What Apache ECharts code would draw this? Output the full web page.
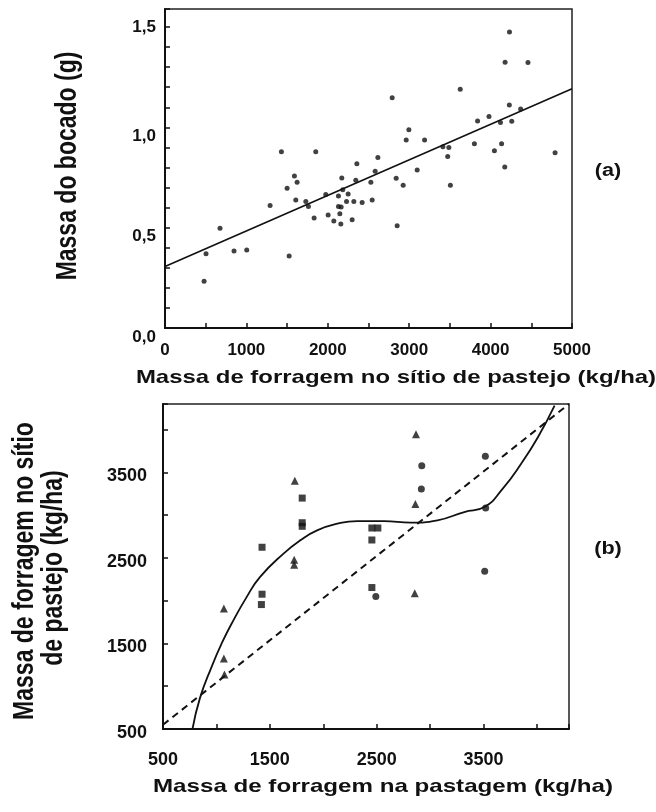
<!DOCTYPE html>
<html>
<head>
<meta charset="utf-8">
<script src="https://cdn.jsdelivr.net/npm/echarts@6/dist/echarts.min.js"></script>
<style>
html,body{margin:0;padding:0;background:#fff;}
#chart{width:656px;height:812px;}
</style>
</head>
<body>
<div id="chart"></div>
<script>
// ---------- Panel (a) data ----------
const aX = [480,504,676,848,1004,1291,1430,1500,1525,1590,1623,1607,1730,1762,1832,1852,1975,2004,2074,2131,2131,2148,2160,2172,2164,2184,2230,2250,2299,2320,2344,2357,2422,2529,2545,2582,2615,2791,2840,2852,2926,2963,2996,3098,3189,3414,3487,3473,3506,3627,3801,3840,3980,4047,4121,4135,4174,4178,4230,4232,4260,4459,4369,4792];
const aY = [0.233,0.370,0.497,0.384,0.389,0.610,0.879,0.696,0.359,0.757,0.726,0.638,0.630,0.605,0.548,0.879,0.666,0.563,0.533,0.658,0.606,0.570,0.518,0.748,0.603,0.689,0.631,0.668,0.540,0.631,0.736,0.819,0.625,0.726,0.638,0.781,0.850,1.148,0.746,0.510,0.711,0.937,0.988,0.787,0.937,0.904,0.900,0.855,0.711,1.190,0.918,1.032,1.054,0.884,1.024,0.918,0.802,1.324,1.112,1.475,1.031,1.323,1.092,0.874];
const aLineX = [0, 5000];
const aLineY = [0.306, 1.193];
const aXTicks = ['0','1000','2000','3000','4000','5000'];
const aYTicks = ['0,0','0,5','1,0','1,5'];

// ---------- Panel (b) data ----------
const bTriX = [1070,1070,1075,1734,1728,1728,2868,2862,2856];
const bTriY = [1909,1325,1138,3403,2420,2480,3947,3130,2088];
const bSqX = [1427,1427,1421,1803,1803,1803,2455,2511,2455,2455];
const bSqY = [2625,2076,1955,3200,2912,2870,2850,2850,2710,2154];
const bCirX = [2492,2922,2918,3517,3520,3511];
const bCirY = [2049,3578,3306,3690,3083,2344];
const bCurveX = [776,845,955,1049,1143,1284,1409,1628,1785,1942,2130,2318,2568,2819,3069,3320,3508,3680,3852,4009,4165];
const bCurveY = [500,858,1227,1500,1734,2045,2278,2551,2706,2823,2900,2931,2931,2912,2940,3037,3095,3310,3601,3912,4282];
const bDashX = [500, 4300];
const bDashY = [550, 4300];
const bTicks = ['500','1500','2500','3500'];

const zip = (xs, ys) => xs.map((x, i) => [x, ys[i]]);
const FONT = '"Liberation Sans", Arial, sans-serif';
const INK = '#111';

const chart = echarts.init(document.getElementById('chart'), null, {renderer: 'canvas'});

const axisCommon = {
  axisLine: {show: true, onZero: false, lineStyle: {color: INK, width: 2}},
  axisTick: {show: true, inside: true, length: 5, lineStyle: {color: INK, width: 1.5}},
  splitLine: {show: false},
  minorTick: {show: false}
};

function fmtA_Y(v) {
  const r = Math.round(v * 10);
  if (r % 5 !== 0 || r > 15) return '';
  const s = aYTicks[r / 5];
  return r === 15 ? s : '{lo|' + s + '}';
}
function fmtA_X(v) {
  const r = Math.round(v);
  if (r % 1000 !== 0) return '';
  return aXTicks[r / 1000] || '';
}
function fmtB(v) {
  const r = Math.round(v);
  const i = bTicks.indexOf(String(r));
  return i >= 0 ? bTicks[i] : '';
}
function fmtB_Y(v) {
  const s = fmtB(v);
  return s ? '{lo|' + s + '}' : '';
}

const labelStyle = (size) => ({color: INK, fontFamily: FONT, fontWeight: 'bold', fontSize: size});

const option = {
  backgroundColor: '#fff',
  animation: false,
  grid: [
    {left: 165, top: 9, width: 407, height: 319, show: true, borderColor: '#222', borderWidth: 1.5, containLabel: false},
    {left: 163, top: 404, width: 406, height: 325, show: true, borderColor: '#222', borderWidth: 1.5, containLabel: false}
  ],
  xAxis: [
    Object.assign({}, axisCommon, {
      gridIndex: 0, type: 'value', min: 0, max: 5000, interval: 500,
      axisLabel: Object.assign(labelStyle(17), {margin: 14, formatter: fmtA_X, showMaxLabel: true})
    }),
    Object.assign({}, axisCommon, {
      gridIndex: 1, type: 'value', min: 500, max: 4300, interval: 500,
      axisLabel: Object.assign(labelStyle(18), {margin: 22, formatter: fmtB})
    })
  ],
  yAxis: [
    Object.assign({}, axisCommon, {
      gridIndex: 0, type: 'value', min: 0, max: 1.59, interval: 0.1,
      axisLabel: Object.assign(labelStyle(17), {margin: 9, formatter: fmtA_Y,
        rich: {lo: {fontFamily: FONT, fontWeight: 'bold', fontSize: 17, color: INK, padding: [18, 0, 0, 0]}}})
    }),
    Object.assign({}, axisCommon, {
      gridIndex: 1, type: 'value', min: 500, max: 4300, interval: 500,
      axisLabel: Object.assign(labelStyle(18), {margin: 16, formatter: fmtB_Y,
        rich: {lo: {fontFamily: FONT, fontWeight: 'bold', fontSize: 18, color: INK, padding: [8, 0, 0, 0]}}})
    })
  ],
  series: [
    {
      type: 'line', xAxisIndex: 0, yAxisIndex: 0, data: zip(aLineX, aLineY),
      symbol: 'none', lineStyle: {color: INK, width: 1.6}, z: 2, silent: true
    },
    {
      type: 'scatter', xAxisIndex: 0, yAxisIndex: 0, data: zip(aX, aY),
      symbol: 'circle', symbolSize: 5, itemStyle: {color: INK}, z: 3
    },
    {
      type: 'line', xAxisIndex: 1, yAxisIndex: 1, data: zip(bDashX, bDashY),
      symbol: 'none', lineStyle: {color: INK, width: 2, type: [7, 5]}, z: 2, silent: true
    },
    {
      type: 'line', xAxisIndex: 1, yAxisIndex: 1, data: zip(bCurveX, bCurveY),
      symbol: 'none', smooth: 0.5, lineStyle: {color: INK, width: 1.8}, z: 2, silent: true
    },
    {
      type: 'scatter', xAxisIndex: 1, yAxisIndex: 1, data: zip(bTriX, bTriY),
      symbol: 'triangle', symbolSize: 8, itemStyle: {color: INK}, z: 3
    },
    {
      type: 'scatter', xAxisIndex: 1, yAxisIndex: 1, data: zip(bSqX, bSqY),
      symbol: 'rect', symbolSize: 7, itemStyle: {color: INK}, z: 3
    },
    {
      type: 'scatter', xAxisIndex: 1, yAxisIndex: 1, data: zip(bCirX, bCirY),
      symbol: 'circle', symbolSize: 7, itemStyle: {color: INK}, z: 3
    }
  ],
  graphic: [
    {type: 'text', x: 396, y: 378, scaleX: 1.26,
      style: {text: 'Massa de forragem no sítio de pastejo (kg/ha)', fill: INK,
        font: 'bold 19px ' + FONT, align: 'center', verticalAlign: 'middle', textAlign: 'center', textVerticalAlign: 'middle'}},
    {type: 'text', x: 383, y: 787, scaleX: 1.27,
      style: {text: 'Massa de forragem na pastagem (kg/ha)', fill: INK,
        font: 'bold 19px ' + FONT, align: 'center', verticalAlign: 'middle', textAlign: 'center', textVerticalAlign: 'middle'}},
    {type: 'text', x: 68, y: 166, rotation: Math.PI / 2, scaleY: 1.25,
      style: {text: 'Massa do bocado (g)', fill: INK,
        font: 'bold 23px ' + FONT, align: 'center', verticalAlign: 'middle', textAlign: 'center', textVerticalAlign: 'middle'}},
    {type: 'text', x: 25, y: 571, rotation: Math.PI / 2, scaleY: 1.25,
      style: {text: 'Massa de forragem no sítio', fill: INK,
        font: 'bold 23px ' + FONT, align: 'center', verticalAlign: 'middle', textAlign: 'center', textVerticalAlign: 'middle'}},
    {type: 'text', x: 54, y: 568, rotation: Math.PI / 2, scaleY: 1.25,
      style: {text: 'de pastejo (kg/ha)', fill: INK,
        font: 'bold 23px ' + FONT, align: 'center', verticalAlign: 'middle', textAlign: 'center', textVerticalAlign: 'middle'}},
    {type: 'text', x: 608, y: 171, scaleX: 1.2,
      style: {text: '(a)', fill: INK,
        font: 'bold 18px ' + FONT, align: 'center', verticalAlign: 'middle', textAlign: 'center', textVerticalAlign: 'middle'}},
    {type: 'text', x: 608, y: 549, scaleX: 1.2,
      style: {text: '(b)', fill: INK,
        font: 'bold 18px ' + FONT, align: 'center', verticalAlign: 'middle', textAlign: 'center', textVerticalAlign: 'middle'}}
  ]
};

chart.setOption(option);
</script>
</body>
</html>
